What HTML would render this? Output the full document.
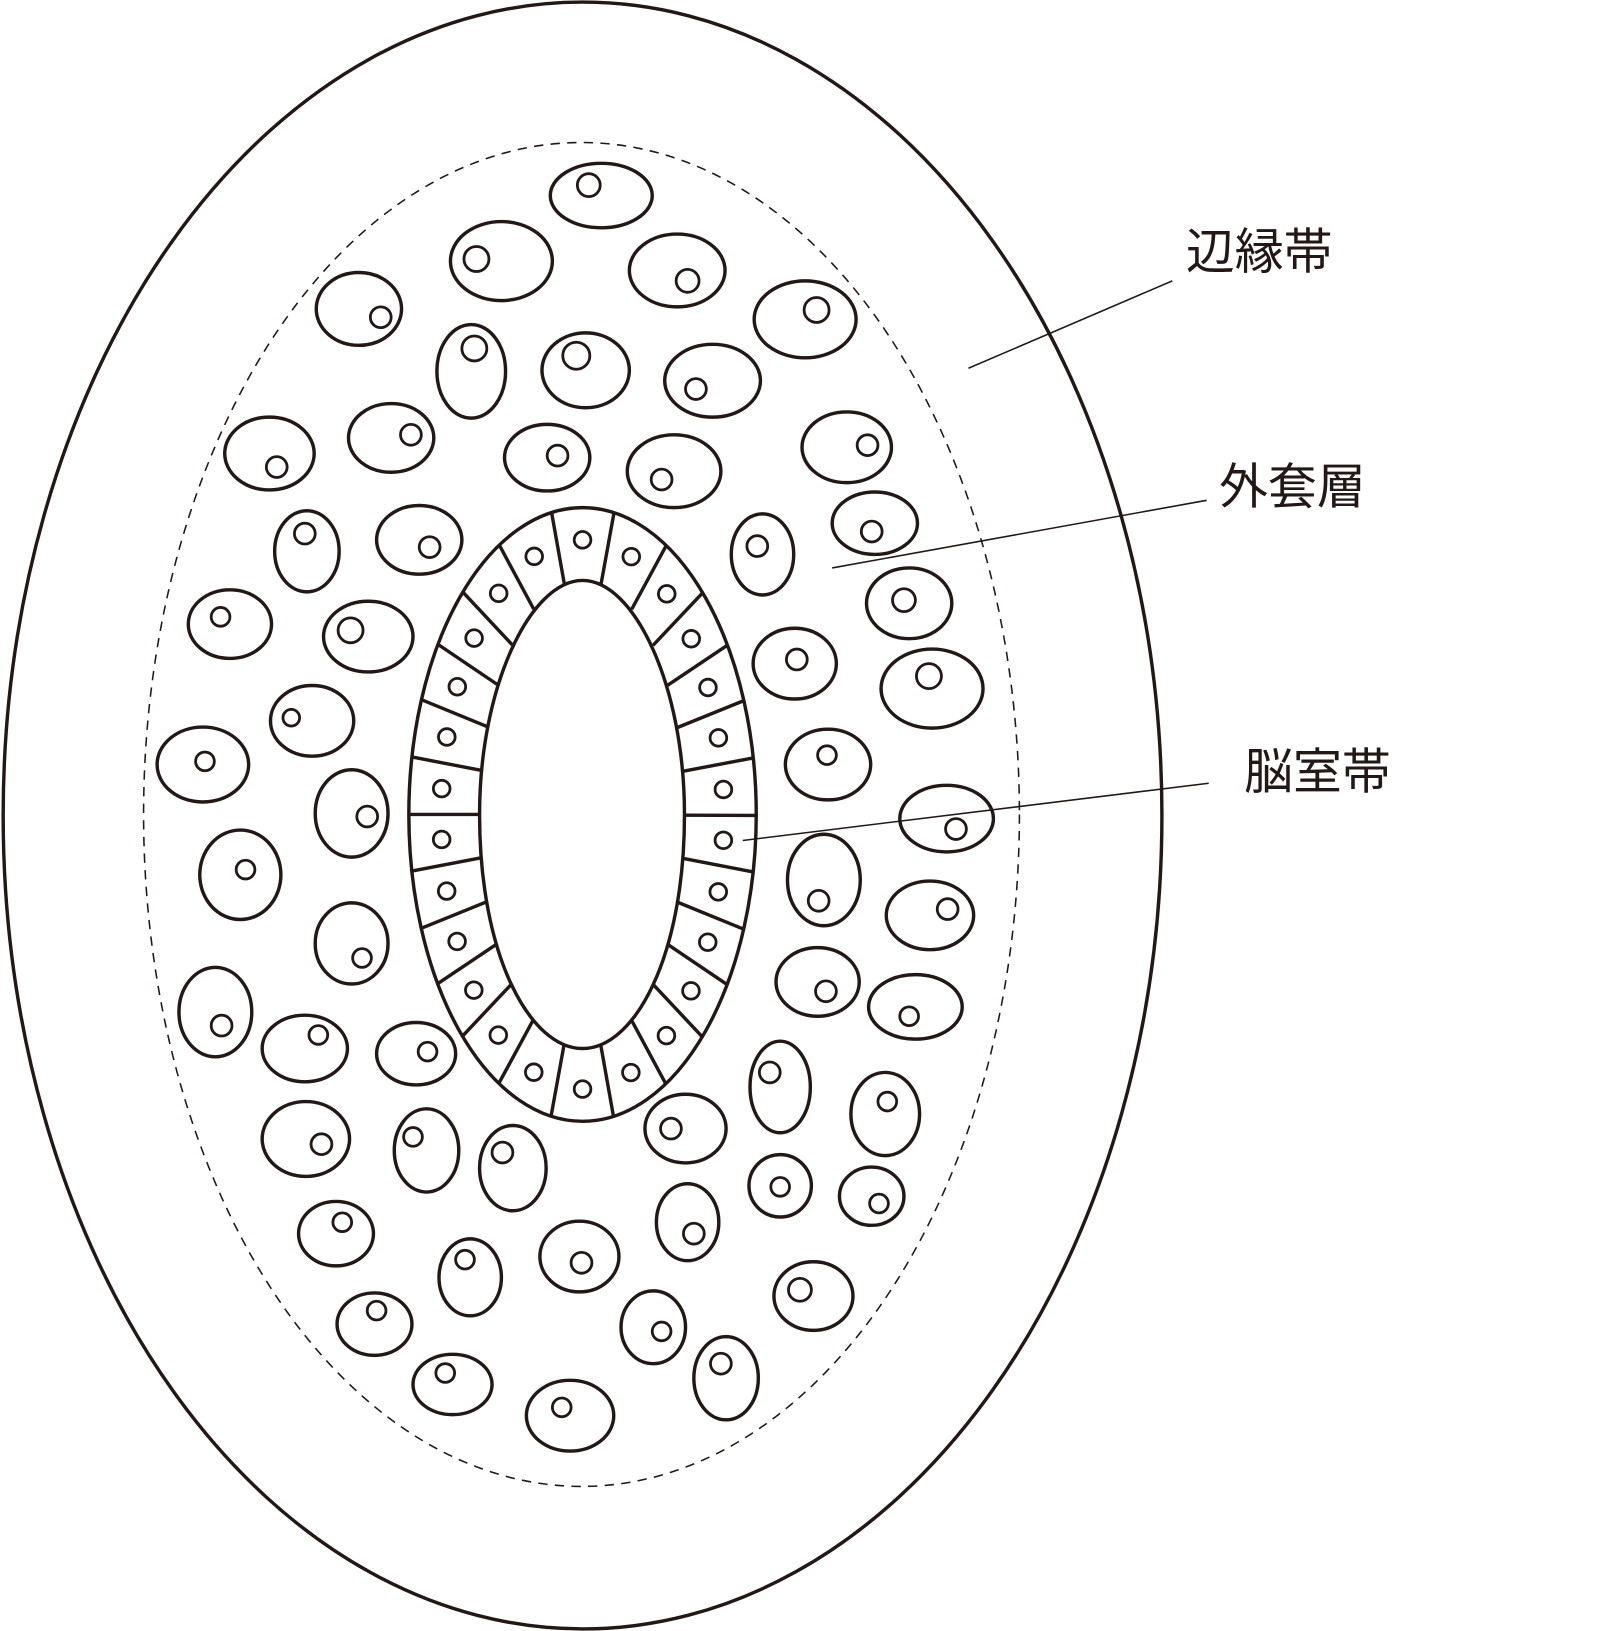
<!DOCTYPE html>
<html><head><meta charset="utf-8"><style>
html,body{margin:0;padding:0;background:#fff;}
svg{display:block}
text{font-family:"Liberation Sans","Noto Sans CJK JP",sans-serif;font-size:47px;fill:#231815}
</style></head><body>
<svg id="s" width="1603" height="1631" viewBox="0 0 1541 1568" xmlns="http://www.w3.org/2000/svg">
<g fill="none" stroke="#231815" stroke-width="3.3">
<ellipse cx="560" cy="784" rx="557" ry="782"/>
<ellipse cx="559" cy="783" rx="421" ry="646" stroke-width="1.5" stroke-dasharray="9 7"/>
<ellipse cx="560" cy="783" rx="167" ry="295"/>
<path d="M560,558 C610,558 658,660 658,783 C658,920 610,1008 560,1008 C510,1008 461,920 461,783 C461,660 510,558 560,558 Z"/>
<g id="vz"></g>
<g id="cells"></g>
<line x1="931" y1="354" x2="1127" y2="270" stroke-width="1.5"/>
<line x1="800" y1="546" x2="1160" y2="481" stroke-width="1.5"/>
<line x1="714" y1="808" x2="1162" y2="753" stroke-width="1.5"/>
</g>
<text x="1140" y="258">辺縁帯</text>
<text x="1172" y="484">外套層</text>
<text x="1196" y="758">脳室帯</text>
</svg>
<script>
var ns="http://www.w3.org/2000/svg";
function el(p,t,a){var e=document.createElementNS(ns,t);for(var k in a)e.setAttribute(k,a[k]);p.appendChild(e);}
var vz=document.getElementById('vz');
var N=26,M=2000,L=[0],T=[0];
for(var j=1;j<=M;j++){var t0=(j-1)/M*2*Math.PI,t1=j/M*2*Math.PI;
 var dx=132*(Math.cos(t1)-Math.cos(t0)),dy=260*(Math.sin(t1)-Math.sin(t0));
 L.push(L[j-1]+Math.sqrt(dx*dx+dy*dy));T.push(t1);}
var tot=L[M];
function tAt(f){var target=f*tot;for(var j=1;j<=M;j++)if(L[j]>=target)return T[j];return T[M];}
for(var i=0;i<N;i++){
 var f=((i+0.5)/N+0.75)%1;
 var a=tAt(f);
 var c=Math.cos(a),s=Math.sin(a);
 el(vz,'line',{x1:560+98*c,y1:783+225*s,x2:560+167*c,y2:783+295*s});
 var b=tAt(((i+1)/N+0.75)%1);
 var cb=Math.cos(b),sb=Math.sin(b);
 el(vz,'circle',{cx:560+136*cb,cy:783+264*sb,r:8,'stroke-width':2.7});
}
var C=[[578,188,49,31,566,178,11],[482,251,49,38,458,249,12],[651,260,46,35,661,270,11],[345,297,41,35,366,305,10],[774,307,49,37,785,298,12],[453,357,33,45,456,335,12],[563,356,42,36,554,342,13],[685,366,46,35,669,374,10],[259,436,43,35,266,449,10],[376,421,41,33,395,418,10],[526,440,41,32,536,438,10],[648,453,45,35,636,461,10],[814,430,43,34,834,428,10],[295,530,31,39,293,513,10],[403,519,41,33,413,526,10],[733,533,30,39,728,525,10],[841,503,41,30,838,511,10],[221,600,40,33,212,593,9],[354,612,43,34,337,606,12],[874,580,41,34,869,577,11],[764,638,40,34,766,634,10],[896,662,49,38,893,650,12],[300,693,40,34,280,690,8],[195,735,44,36,197,732,9],[338,782,35,42,353,785,10],[796,735,41,34,795,726,9],[910,787,45,32,919,797,10],[231,841,39,43,236,836,9],[792,846,35,44,787,866,10],[338,907,35,39,348,921,9],[894,880,42,33,911,874,10],[207,973,35,43,213,986,10],[293,1008,41,32,306,995,9],[400,1013,38,30,411,1011,9],[786,944,40,33,794,953,10],[880,968,45,31,874,977,9],[750,1045,29,44,740,1031,10],[851,1071,33,40,853,1059,9],[294,1095,42,36,309,1100,10],[410,1106,31,40,397,1093,9],[493,1123,32,41,483,1108,10],[659,1085,39,33,645,1085,10],[750,1140,30,30,750,1141,9],[838,1150,31,28,845,1157,9],[323,1186,36,31,329,1175,9],[661,1175,30,37,667,1186,10],[452,1228,30,37,447,1211,9],[557,1208,38,34,559,1214,10],[782,1246,38,33,769,1240,11],[360,1273,36,30,362,1260,9],[628,1276,31,35,636,1280,9],[698,1325,31,40,693,1311,10],[435,1331,38,29,428,1320,9],[548,1361,42,34,540,1353,9]];
var g=document.getElementById('cells');
C.forEach(function(c){el(g,'ellipse',{cx:c[0],cy:c[1],rx:c[2],ry:c[3]});el(g,'circle',{cx:c[4],cy:c[5],r:c[6],'stroke-width':2.7});});
</script>
</body></html>
